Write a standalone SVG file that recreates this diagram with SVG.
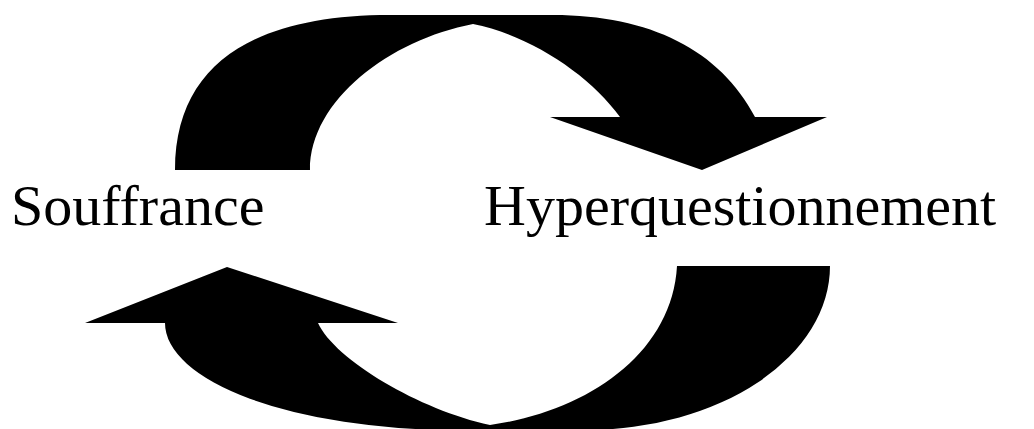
<svg xmlns="http://www.w3.org/2000/svg" width="1034" height="429" viewBox="0 0 1034 429">
<style>
.arrow{fill:#000;stroke:none}
.label{font-family:"Liberation Serif","Times New Roman",serif;font-size:58px;fill:#000}
</style>
<rect width="1034" height="429" fill="#fff"/>
<g id="connectors">
<path id="arrow-top" class="arrow" d="M175,170 C175,60 260,15 390,15 L553,15 C650,15 720,50 755,117 L827,117 L702,170 L550,117 L620,117 C590,75 530,35 473,24 C390,40 310,100 310,170 Z"/>
<path id="arrow-bottom" class="arrow" d="M398,323 L318,323 C335,360 420,410 490,425 C585,412 672,355 677,266 L830,266 A244,164 0 0,1 586,430 L455,430 A290,107 0 0,1 165,323 L85,323 L227,267 Z"/>
</g>
<g id="node-souffrance">
<text class="label" x="11" y="225">Souffrance</text>
</g>
<g id="node-hyperquestionnement">
<text class="label" x="484" y="225">Hyperquestionnement</text>
</g>
</svg>
